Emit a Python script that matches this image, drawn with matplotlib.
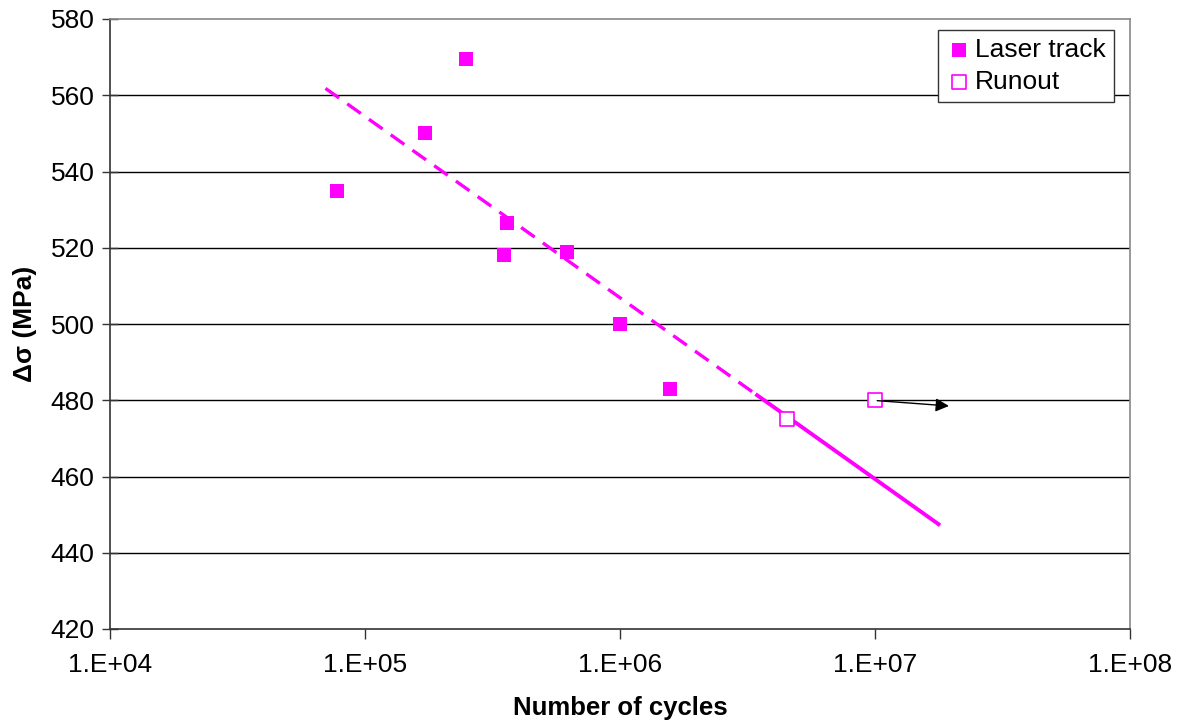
import matplotlib.pyplot as plt
import numpy as np

plt.rcParams['font.family'] = ['Liberation Sans', 'DejaVu Sans']

# laser track results
cycles = [7.8e4, 1.72e5, 2.5e5, 3.6e5, 3.5e5, 6.2e5, 1.0e6, 1.57e6]
stress = [535, 550, 569.5, 526.5, 518, 519, 500, 483]

# runouts
runout_cycles = [4.5e6, 1.0e7]
runout_stress = [475, 480]

# trendline endpoints and where it turns solid
trend_x = [7.0e4, 1.8e7]
trend_y = [561.8, 447.2]
trend_solid_from = 3.4e6

# runout arrow
arrow_x = [1.02e7, 1.95e7]
arrow_y = [479.9, 478.5]

yticks = np.arange(420, 581, 20)
xticks = [1e4, 1e5, 1e6, 1e7, 1e8]
xlabels = ['1.E+04', '1.E+05', '1.E+06', '1.E+07', '1.E+08']

fig = plt.figure(figsize=(11.79, 7.24), dpi=100)
ax = fig.add_axes([110/1179, 1 - 629/724, 1020/1179, 610/724])

ax.set_xscale('log')
ax.set_xlim(1e4, 1e8)
ax.set_ylim(420, 580)

for yv in yticks[1:-1]:
    ax.axhline(yv, color='black', lw=1.0, zorder=1)

# trendline: dashed then solid
lx = np.log10(trend_x)
slope = (trend_y[1] - trend_y[0]) / (lx[1] - lx[0])
ys = trend_y[0] + slope * (np.log10(trend_solid_from) - lx[0])
ax.plot([trend_x[0], trend_solid_from], [trend_y[0], ys], color='#ff00ff', lw=2.4,
        dashes=(5, 3), zorder=2)
ax.plot([trend_solid_from, trend_x[1]], [ys, trend_y[1]], color='#ff00ff', lw=2.8,
        zorder=2, solid_capstyle='butt')

ax.scatter(cycles, stress, marker='s', s=110, color='#ff00ff', zorder=3,
           label='Laser track', linewidths=0)
ax.scatter(runout_cycles, runout_stress, marker='s', s=100, facecolor='white',
           edgecolor='#ff00ff', linewidths=1.2, zorder=3, label='Runout')

ax.annotate('', xy=(arrow_x[1], arrow_y[1]), xytext=(arrow_x[0], arrow_y[0]),
            arrowprops=dict(arrowstyle='-|>', color='black', lw=1.0,
                            mutation_scale=20, shrinkA=0, shrinkB=0), zorder=4)

ax.set_xticks(xticks)
ax.set_xticklabels(xlabels)
ax.xaxis.set_minor_locator(plt.NullLocator())
ax.set_yticks(yticks)
ax.tick_params(axis='x', direction='out', length=7, width=1, color='#333333',
               labelsize=19, pad=10)
ax.tick_params(axis='y', direction='inout', length=12, width=1, color='#333333',
               labelsize=19, pad=5)

for side in ['left', 'bottom']:
    ax.spines[side].set_color('#333333')
    ax.spines[side].set_linewidth(1.2)
for side in ['top', 'right']:
    ax.spines[side].set_color('#888888')
    ax.spines[side].set_linewidth(1.2)

ax.set_xlabel('Number of cycles', fontsize=18.5, fontweight='bold', labelpad=14)
ax.set_ylabel('Δσ (MPa)', fontsize=19, fontweight='bold', labelpad=10)

leg = ax.legend(loc='upper right', bbox_to_anchor=(0.984, 0.982), borderaxespad=0,
                fontsize=19, fancybox=False, edgecolor='#333333', framealpha=1,
                handletextpad=0.1, borderpad=0.3, labelspacing=0.3,
                handlelength=1.0, markerscale=1.0)
leg.get_frame().set_linewidth(1.0)

fig.savefig('out.png', dpi=100)
